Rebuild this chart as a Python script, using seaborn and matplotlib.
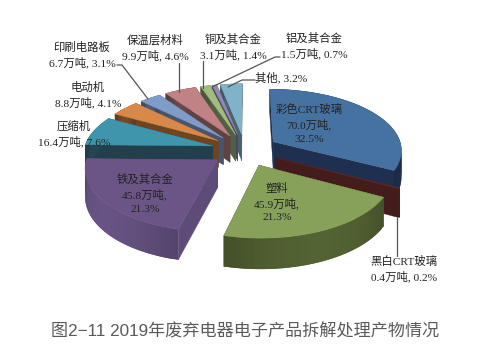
import numpy as np
import matplotlib
matplotlib.use('Agg')
import matplotlib.pyplot as plt
from matplotlib.patches import Polygon
import seaborn as sns

sns.set_theme(style="white")
label_font = ['Liberation Serif', 'Noto Sans CJK SC', 'DejaVu Sans']
title_font = ['Liberation Sans', 'Noto Sans CJK SC', 'DejaVu Sans']

# values, clockwise from 12 o'clock
categories = ['彩色CRT玻璃', '黑白CRT玻璃', '塑料', '铁及其合金', '压缩机', '电动机',
              '印刷电路板', '保温层材料', '铜及其合金', '铝及其合金', '其他']
amounts = [70.0, 0.4, 45.9, 45.8, 16.4, 8.8, 6.7, 9.9, 3.1, 1.5, None]
shares = [32.5, 0.2, 21.3, 21.3, 7.6, 4.1, 3.1, 4.6, 1.4, 0.7, 3.2]
top_colors = ['#4672A1', '#5A2A2A', '#87A05A', '#6B5587', '#3F96AC', '#D8894A',
              '#7F9CC8', '#C08285', '#A1BC80', '#9388B4', '#80B3C8']
side_colors = ['#1F2F50', '#451C1C', '#4C5A2E', '#5E4C78', '#233F4C', '#6E4520',
               '#46566E', '#5F4242', '#525F42', '#4C4660', '#48626E']
caption = '图2−11 2019年废弃电器电子产品拆解处理产物情况'

# projection of the 3D pie, in pixels
cx, cy = 245, 150
rx, ry = 129, 62
persp = 0.12
explode = 0.26
depth = 27


def project(wu, wv, low=False):
    s = 1 + persp * wv
    x = cx + wu * rx * s
    y = cy + wv * ry * s
    if low:
        y = y + depth * s
    return x, y


def slice_points(start, end):
    mid = (start + end) / 2
    du, dv = explode * np.sin(mid), -explode * np.cos(mid)
    t = np.linspace(start, end, max(int((end - start) * 30), 3))
    wu = du + np.sin(t)
    wv = dv - np.cos(t)
    return du, dv, t, wu, wv


def shade(col, f):
    rgb = np.array(matplotlib.colors.to_rgb(col)) * f
    return tuple(np.clip(rgb, 0, 1))


fig = plt.figure(figsize=(4.97, 3.58), dpi=100)
ax = fig.add_axes([0, 0, 1, 1])
ax.set_xlim(0, 497)
ax.set_ylim(358, 0)
ax.axis('off')

edges = np.radians(np.cumsum([0] + shares) * 3.6)
mids = (edges[:-1] + edges[1:]) / 2
order = np.argsort(-np.cos(mids))

z = 1
for i in order:
    start, end = edges[i], edges[i + 1]
    du, dv, t, wu, wv = slice_points(start, end)
    side = side_colors[i]

    # cut faces
    for j in (0, -1):
        pts = [project(du, dv), project(wu[j], wv[j]),
               project(wu[j], wv[j], True), project(du, dv, True)]
        ax.add_patch(Polygon(pts, closed=True, fc=side, ec=side, lw=0.3, zorder=z))
    z += 1

    # outer wall, smooth shading across the slice
    for k in range(len(wu) - 1):
        f = 0.9 + 0.2 * np.sin(np.pi * k / (len(wu) - 2))
        c = shade(side, f)
        # strips overlap the next one so no seams show
        n = min(k + 2, len(wu) - 1)
        pts = [project(wu[k], wv[k]), project(wu[n], wv[n]),
               project(wu[n], wv[n], True), project(wu[k], wv[k], True)]
        ax.add_patch(Polygon(pts, closed=True, fc=c, ec='none', zorder=z))
    z += 1

    # top face
    top = [project(du, dv)] + [project(a, b) for a, b in zip(wu, wv)]
    ax.add_patch(Polygon(top, closed=True, fc=top_colors[i], ec=top_colors[i], lw=0.3, zorder=z))
    z += 1


def label_lines(i):
    if amounts[i] is None:
        return [f'{categories[i]}, {shares[i]}%']
    if i in (0, 2, 3):
        return [categories[i], f'{amounts[i]}万吨,', f'{shares[i]}%']
    return [categories[i], f'{amounts[i]}万吨, {shares[i]}%']


# centre of each label's first line, in pixels
label_pos = {0: (309, 109), 1: (404, 261), 2: (277, 188), 3: (145, 179), 4: (74, 126),
             5: (88, 87), 6: (82, 47), 7: (155, 40), 8: (233, 39), 9: (314, 38), 10: (281, 77)}
for i, (x, y) in label_pos.items():
    for n, line in enumerate(label_lines(i)):
        ax.text(x, y + n * 15, line, ha='center', va='center', fontsize=8.2, color='#222222',
                family=label_font, zorder=100)

# leader lines
leaders = [([117, 122, 148], [65, 65, 99]), ([179, 179], [63, 92]), ([203, 203], [61, 88]),
           ([280, 275, 212], [57, 57, 87]), ([255, 242, 228], [80, 80, 87]), ([397, 397], [218, 256])]
for xs, ys in leaders:
    ax.plot(xs, ys, color='#555555', lw=0.9, zorder=99)

ax.text(245, 331, caption, ha='center', va='center', fontsize=12.3, color='#5a5a5a',
        family=title_font, zorder=100)

fig.savefig('out.png', dpi=100, facecolor='white')
plt.close(fig)
